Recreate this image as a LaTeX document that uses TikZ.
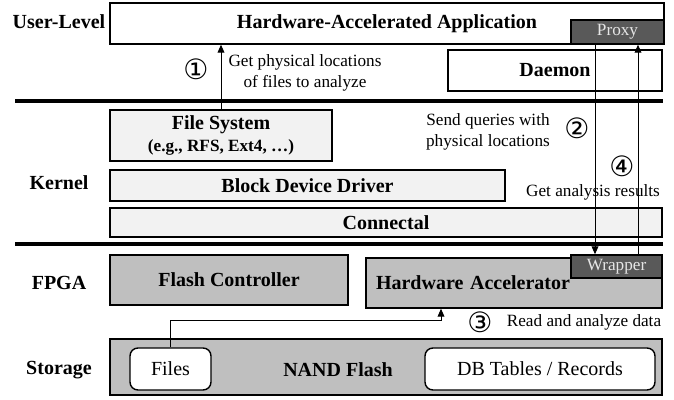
\documentclass[tikz,border=0pt]{standalone}
\usepackage{fontspec}
\setmainfont{Liberation Serif}
\newfontfamily\circfont{DejaVu Sans}
\usetikzlibrary{arrows.meta}
\definecolor{lightbox}{HTML}{F2F2F2}
\definecolor{midbox}{HTML}{BFBFBF}
\definecolor{darkbox}{HTML}{595959}
\definecolor{paletext}{HTML}{E6E6E6}
\begin{document}
\begin{tikzpicture}[x=0.5pt,y=-0.5pt,>={Triangle[length=4pt,width=3.4pt]},
  blk/.style={draw, line width=0.7pt, inner sep=0pt, font=\bfseries},
  tag/.style={draw, line width=0.7pt, inner sep=0pt, fill=darkbox, text=paletext, font=\fontsize{8.6}{10}\selectfont},
  layer/.style={font=\bfseries},
  note/.style={align=center, inner sep=1pt, font=\fontsize{8.6}{10.5}\selectfont},
  num/.style={inner sep=0pt, font=\circfont\fontsize{14}{14}\selectfont},
  flow/.style={->, line width=0.5pt}]
\useasboundingbox (0,0) rectangle (674,400);
% layer names
\node(ul) at (59,22) [layer] {User-Level};
\node(kn) at (59,183) [layer] {Kernel};
\node(fp) at (59,283) [layer] {FPGA};
\node(st) at (59,370) [layer] {Storage};
% user level
\node(app) at (387,23.5) [blk, fill=white, minimum width=277pt, minimum height=20.5pt] {Hardware-Accelerated Application};
\node(proxy) at (617.5,32) [tag, minimum width=46.5pt, minimum height=12pt] {Proxy};
\node(daemon) at (555,70.5) [blk, fill=white, minimum width=107pt, minimum height=20.5pt] {Daemon};
\draw[line width=1.8pt] (15,101) -- (663,101);
% kernel
\node(fs) at (221,135.5) [blk, fill=lightbox, minimum width=111pt, minimum height=25.5pt, align=center]
  {File System\\[-1pt]{\fontsize{8.6}{10}\selectfont (e.g., RFS, Ext4, …)}};
\node(bdd) at (307.5,185.5) [blk, fill=lightbox, minimum width=197.5pt, minimum height=15.5pt] {Block Device Driver};
\node(con) at (386,222.5) [blk, fill=lightbox, minimum width=276pt, minimum height=14.5pt] {Connectal};
\draw[line width=1.8pt] (15,244) -- (663,244);
% fpga
\node(fc) at (229,280) [blk, fill=midbox, minimum width=119pt, minimum height=25pt] {Flash Controller};
\node(ha) at (514,280) [blk, fill=midbox, minimum width=148pt, minimum height=25pt, text width=138pt, align=left, yshift=-1.5pt] {Hardware Accelerator};
\node(wrap) at (616.5,266.5) [tag, minimum width=45.5pt, minimum height=11.5pt] {Wrapper};
% storage
\node(nand) at (386,367) [blk, fill=midbox, minimum width=276pt, minimum height=28pt] {};
\node(nandtxt) at (338,370) [layer] {NAND Flash};
\node(files) at (170.5,369) [draw, line width=0.7pt, fill=white, rounded corners=4pt, minimum width=40.5pt, minimum height=21pt] {Files};
\node(db) at (540,369) [draw, line width=0.7pt, fill=white, rounded corners=4pt, minimum width=115pt, minimum height=21pt] {DB Tables / Records};
% steps
\node(n1) at (196,69) [num] {①};
\node(t1) at (305,73) [note] {Get physical locations\\of files to analyze};
\node(n2) at (577,128) [num] {②};
\node(t2) at (488,132) [note] {Send queries with\\physical locations};
\node(n4) at (622,166) [num] {④};
\node(t4) at (593,192) [note] {Get analysis results};
\node(n3) at (480,322) [num] {③};
\node(t3) at (584,322) [note] {Read and analyze data};
\coordinate(c2) at (595,44);
\coordinate(c4) at (638,255);
\coordinate(c3) at (441,321);
\draw[flow] (fs.north) -- (fs.north |- app.south);
\draw[flow] (c2) -- (c2 |- wrap.north);
\draw[flow] (c4) -- (c4 |- proxy.south);
\draw[flow] (files.north) |- (c3) -- (c3 |- ha.south);
\end{tikzpicture}
\end{document}
